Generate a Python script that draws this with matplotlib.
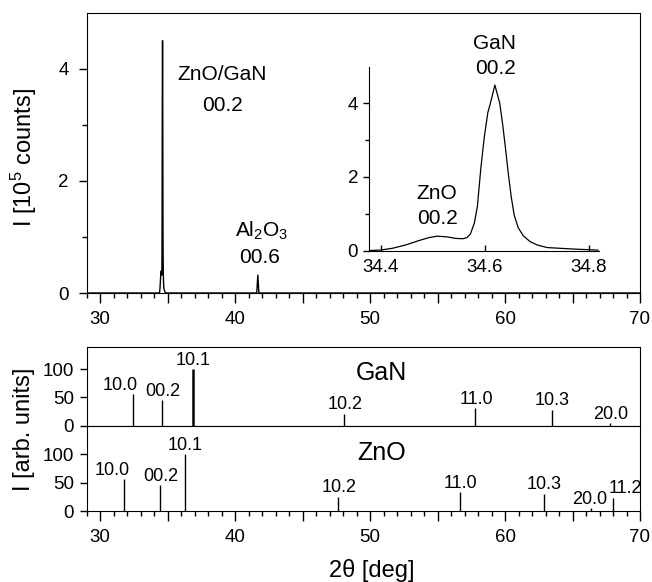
import numpy as np
import matplotlib
matplotlib.use("Agg")
import matplotlib.pyplot as plt
from matplotlib.ticker import MultipleLocator, FixedLocator, FuncFormatter

plt.rcParams['font.family'] = ['Liberation Sans', 'DejaVu Sans']
plt.rcParams['mathtext.fontset'] = 'custom'
plt.rcParams['mathtext.rm'] = 'Liberation Sans'
plt.rcParams['mathtext.it'] = 'Liberation Sans:italic'

# profile of the ZnO/GaN 00.2 peak, 10^5 counts
peak_x = [34.379, 34.399, 34.4224, 34.4479, 34.4734, 34.4926, 34.5087, 34.5279,
          34.5438, 34.5578, 34.5659, 34.5726, 34.5802, 34.586, 34.5927, 34.5994,
          34.6061, 34.6109, 34.6153, 34.6196, 34.6244, 34.6291, 34.6349, 34.6407,
          34.6454, 34.6512, 34.657, 34.6646, 34.6742, 34.6876, 34.7011, 34.7202,
          34.7701, 34.818]
peak_y = [0.0, 0.01, 0.06, 0.15, 0.27, 0.35, 0.39, 0.37,
          0.33, 0.32, 0.35, 0.45, 0.75, 1.2, 2.25, 3.1,
          3.75, 4.0, 4.25, 4.5, 4.25, 4.0, 3.4, 2.7,
          2.1, 1.45, 0.95, 0.62, 0.40, 0.24, 0.15, 0.08,
          0.04, 0.01]

# rest of the full scan
al_x = [41.60, 41.68, 41.76]
al_y = [0.0, 0.32, 0.0]
scan_x = [29.0] + peak_x + [34.9] + al_x + [70.0]
scan_y = [0.0] + peak_y + [0.0] + al_y + [0.0]

# reference powder patterns
gan_pos = [32.4, 34.6, 36.9, 48.1, 57.8, 63.5, 67.8]
gan_int = [57, 45, 100, 20, 32, 28, 4]
gan_hkl = ['10.0', '00.2', '10.1', '10.2', '11.0', '10.3', '20.0']

zno_pos = [31.8, 34.45, 36.3, 47.6, 56.65, 62.9, 66.4, 68.0]
zno_int = [57, 45, 100, 24, 33, 30, 6, 23]
zno_hkl = ['10.0', '00.2', '10.1', '10.2', '11.0', '10.3', '20.0', '11.2']

# label positions (x, y) in data units
gan_lab = [(31.5, 72), (34.66, 61), (36.9, 116), (48.15, 37), (57.9, 47), (63.5, 44), (67.8, 20)]
zno_lab = [(30.9, 71), (34.5, 60), (36.3, 116), (47.7, 41), (56.7, 49), (62.9, 47), (66.3, 21), (68.9, 40)]

W, H = 652, 582
fig = plt.figure(figsize=(W / 100, H / 100), dpi=100)


def box(l, t, r, b):
    return [l / W, 1 - b / H, (r - l) / W, (b - t) / H]


tick_kw = dict(labelsize=13.5, width=1, color='black')


def xfmt(v, p):
    return '%d' % v if abs(v % 10) < 1e-6 else ''


def set_xticks(ax, labels=True):
    ax.set_xlim(29, 70)
    ax.xaxis.set_major_locator(MultipleLocator(5))
    ax.xaxis.set_minor_locator(MultipleLocator(1))
    ax.xaxis.set_major_formatter(FuncFormatter(xfmt))
    ax.tick_params(axis='x', which='major', direction='out', length=7, pad=6, **tick_kw)
    ax.tick_params(axis='x', which='minor', direction='out', length=3.5, width=1)
    ax.tick_params(axis='x', top=False, labelbottom=labels)


# ---- top panel ----
ax1 = fig.add_axes(box(86.7, 12.7, 640, 293))
ax1.plot(scan_x, scan_y, color='black', lw=1)
set_xticks(ax1)
ax1.set_ylim(0, 5)
ax1.yaxis.set_major_locator(FixedLocator([0, 2, 4]))
ax1.yaxis.set_minor_locator(FixedLocator([1, 3]))
ax1.tick_params(axis='y', which='major', direction='out', length=6, pad=7, **tick_kw)
ax1.tick_params(axis='y', which='minor', direction='out', length=3.5, width=1)
ax1.tick_params(axis='y', right=False)
ax1.text(39.04, 3.89, 'ZnO/GaN', fontsize=15, ha='center', va='center')
ax1.text(39.07, 3.34, '00.2', fontsize=15, ha='center', va='center')
ax1.text(41.93, 1.11, r'Al$_\mathregular{2}$O$_\mathregular{3}$', fontsize=15, ha='center', va='center')
ax1.text(41.78, 0.63, '00.6', fontsize=15, ha='center', va='center')

# ---- inset ----
axi = fig.add_axes(box(369.3, 66.7, 599, 250.5))
axi.patch.set_alpha(0)
axi.plot(peak_x, peak_y, color='black', lw=0.9)
axi.set_xlim(34.378, 34.82)
axi.set_ylim(0, 5)
axi.spines['top'].set_visible(False)
axi.spines['right'].set_visible(False)
axi.set_xticks([34.4, 34.6, 34.8])
axi.xaxis.set_major_formatter(FuncFormatter(lambda v, p: '%.1f' % v))
axi.yaxis.set_major_locator(FixedLocator([0, 2, 4]))
axi.yaxis.set_minor_locator(FixedLocator([1, 3]))
axi.tick_params(axis='x', direction='in', length=4, pad=6, **tick_kw)
axi.tick_params(axis='y', which='major', direction='out', length=4, pad=4, **tick_kw)
axi.tick_params(axis='y', which='minor', direction='out', length=3, width=1)
axi.text(34.619, 5.63, 'GaN', fontsize=15, ha='center', va='center', clip_on=False)
axi.text(34.62, 4.95, '00.2', fontsize=15, ha='center', va='center', clip_on=False)
axi.text(34.508, 1.55, 'ZnO', fontsize=15, ha='center', va='center')
axi.text(34.509, 0.87, '00.2', fontsize=15, ha='center', va='center')

# ---- reference patterns ----
ax2 = fig.add_axes(box(86.7, 346.7, 640, 425.7))
ax3 = fig.add_axes(box(86.7, 425.7, 640, 511))
for ax, pos, inten, hkl, labs, name, top, ny, thick in [
        (ax2, gan_pos, gan_int, gan_hkl, gan_lab, 'GaN', 140, 93.5, 1.8),
        (ax3, zno_pos, zno_int, zno_hkl, zno_lab, 'ZnO', 150, 102, 1.0)]:
    lw = [thick if v == 100 else 1.0 for v in inten]
    ax.vlines(pos, 0, inten, colors='black', linewidths=lw)
    ax.set_ylim(0, top)
    ax.set_yticks([0, 50, 100])
    ax.tick_params(axis='y', direction='out', length=5, pad=4, right=False, **tick_kw)
    for s, (lx, ly) in zip(hkl, labs):
        ax.text(lx, ly, s, fontsize=13, ha='center', va='center')
    ax.text(50.86, ny, name, fontsize=18, ha='center', va='center')

set_xticks(ax2, labels=False)
ax2.tick_params(axis='x', which='both', bottom=False)
set_xticks(ax3)

fig.text(24 / W, 1 - 157 / H, r'I [10$^{\mathregular{5}}$ counts]', fontsize=17,
         rotation=90, ha='center', va='center')
fig.text(24 / W, 1 - 429 / H, 'I [arb. units]', fontsize=17, rotation=90, ha='center', va='center')
fig.text(372 / W, 1 - 570 / H, '2θ [deg]', fontsize=17, ha='center', va='center')

fig.savefig('out.png', dpi=100)
